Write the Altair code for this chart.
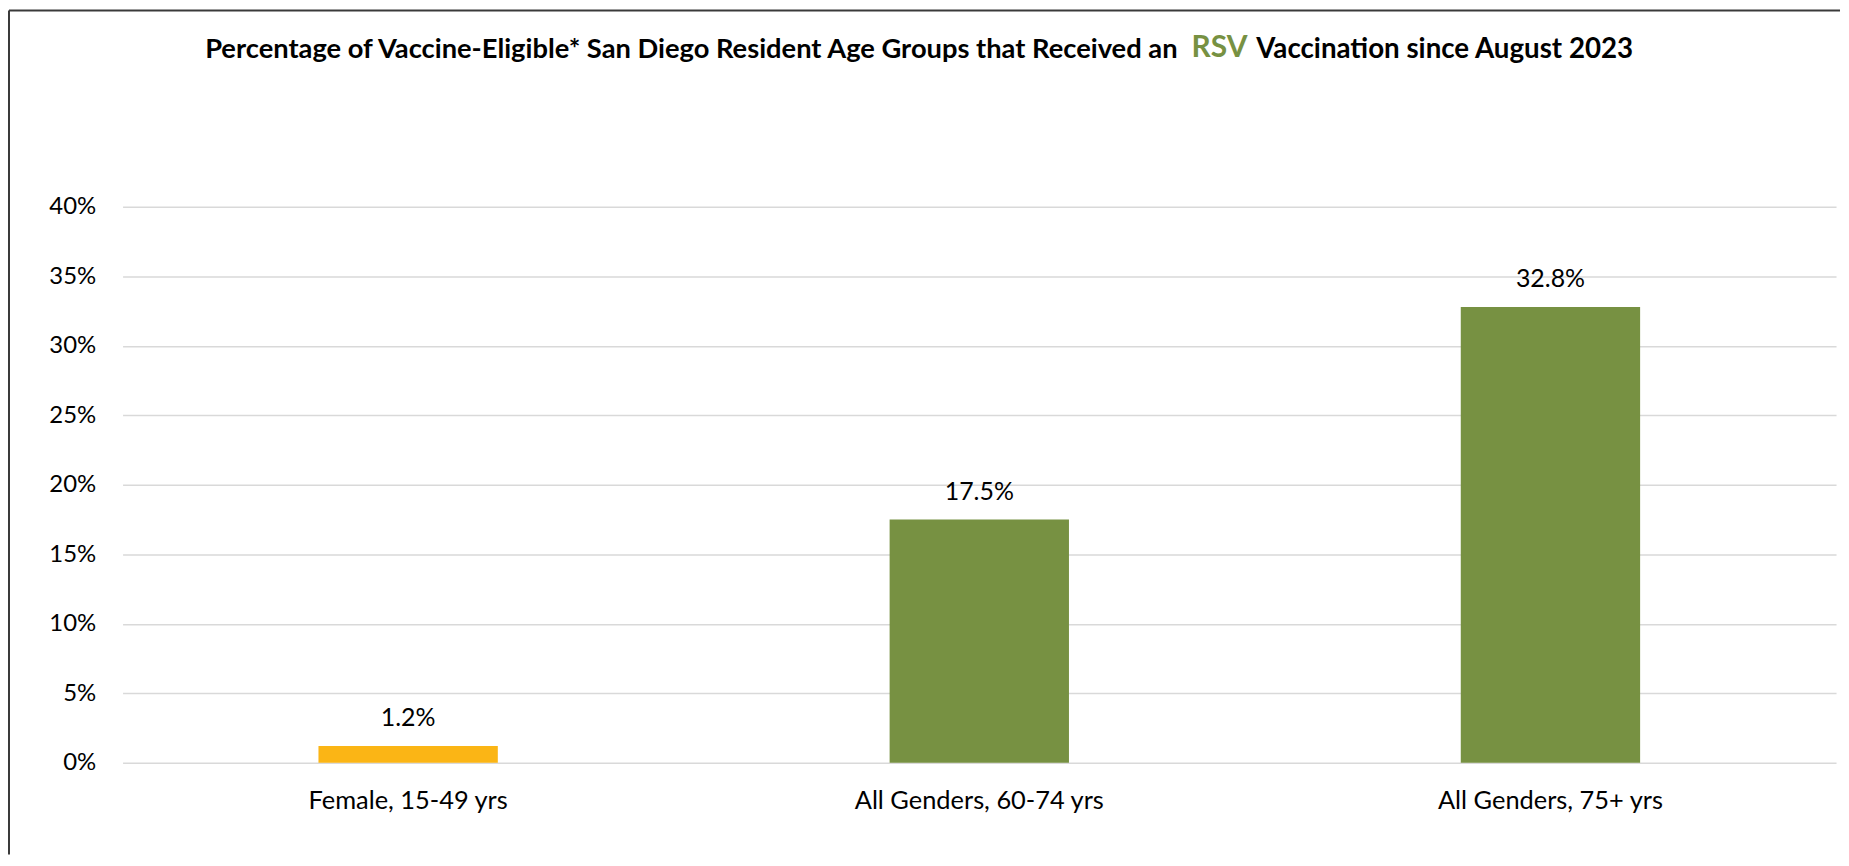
import altair as alt
import pandas as pd

# ---- data ----
groups = ["Female, 15-49 yrs", "All Genders, 60-74 yrs", "All Genders, 75+ yrs"]
pct = [0.012, 0.175, 0.328]
y_ticks = [0.0, 0.05, 0.10, 0.15, 0.20, 0.25, 0.30, 0.35, 0.40]
title_before = ["Percentage of Vaccine-Eligible* San Diego Resident Age Groups that Received an"]
title_key = ["RSV"]
title_after = ["Vaccination since August 2023"]

df = pd.DataFrame({"group": groups, "pct": pct})

W, H = 1720, 558
YELLOW = "#FBB515"
GREEN = "#779142"
FONT = "Lato"

x_enc = alt.X(
    "group:N",
    sort=groups,
    scale=alt.Scale(paddingInner=0.686, paddingOuter=0.343),
    axis=alt.Axis(
        title=None, labelAngle=0, domain=False, ticks=False, grid=False,
        labelPadding=26, labelFontSize=25.5, labelColor="#000000", labelFont=FONT,
        labelLimit=1000,
    ),
)
y_enc = alt.Y(
    "pct:Q",
    scale=alt.Scale(domain=[0, 0.4], nice=False),
    axis=alt.Axis(
        title=None, values=y_ticks, format=".0%", domain=False, ticks=False,
        labelPadding=27, labelFontSize=24, labelColor="#000000", labelFont=FONT,
        grid=True, gridColor="#D9D9D9", gridWidth=1.5,
    ),
)

base = alt.Chart(df)

bars = base.mark_bar().encode(
    x=x_enc,
    y=y_enc,
    color=alt.Color(
        "group:N",
        scale=alt.Scale(domain=groups, range=[YELLOW, GREEN, GREEN]),
        legend=None,
    ),
)

labels = base.mark_text(
    baseline="alphabetic", dy=-20, fontSize=25, font=FONT, color="#000000"
).encode(
    x=alt.X("group:N", sort=groups),
    y=alt.Y("pct:Q"),
    text=alt.Text("pct:Q", format=".1%"),
)

t1 = alt.Chart(pd.DataFrame({"t": title_before})).mark_text(
    align="right", baseline="alphabetic", fontSize=27.4, fontWeight="bold",
    font=FONT, color="#000000",
).encode(x=alt.value(1059), y=alt.value(-149), text="t:N")

t2 = alt.Chart(pd.DataFrame({"t": title_key})).mark_text(
    align="left", baseline="alphabetic", fontSize=30, fontWeight="bold",
    font=FONT, color=GREEN,
).encode(x=alt.value(1073), y=alt.value(-150), text="t:N")

t3 = alt.Chart(pd.DataFrame({"t": title_after})).mark_text(
    align="left", baseline="alphabetic", fontSize=27.8, fontWeight="bold",
    font=FONT, color="#000000",
).encode(x=alt.value(1138), y=alt.value(-149), text="t:N")

frame_df = pd.DataFrame({"k": [0]})
frame_left = alt.Chart(frame_df).mark_rule(color="#3A3A3A", strokeWidth=2).encode(
    x=alt.value(-114), y=alt.value(-197), y2=alt.value(650)
)
frame_top = alt.Chart(frame_df).mark_rule(color="#3A3A3A", strokeWidth=2).encode(
    x=alt.value(-114), x2=alt.value(1724), y=alt.value(-197)
)

chart = (
    alt.layer(frame_left, frame_top, bars, labels, t1, t2, t3)
    .properties(width=W, height=H, padding=0, background="white")
    .configure(font=FONT)
    .configure_view(strokeWidth=0, stroke="transparent")
)

chart.save("out.html", embed_options={"renderer": "svg", "actions": False})
